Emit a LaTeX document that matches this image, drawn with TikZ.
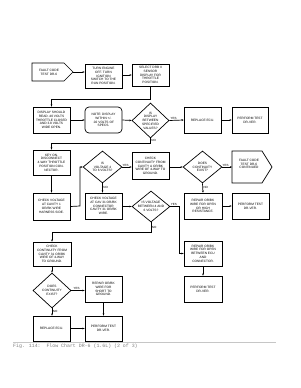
\documentclass[tikz,border=0pt]{standalone}
\usepackage{fontspec}
\setmainfont{Liberation Sans}
\newfontfamily\capfont{Liberation Mono}
\usetikzlibrary{shapes.geometric,arrows.meta}
\tikzset{
  txt/.style={font=\fontsize{3.2}{3.8}\selectfont, align=center, inner sep=0pt},
  box/.style={draw, line width=0.7pt, rectangle, minimum width=37pt, minimum height=26pt, inner sep=0pt, align=center, font=\fontsize{3.2}{3.8}\selectfont},
  dia/.style={draw, line width=0.7pt, diamond, inner sep=0pt},
  conn/.style={line width=0.7pt, -{Stealth[length=2.2pt,width=1.8pt]}},
  lbl/.style={font=\fontsize{3}{3.5}\selectfont, inner sep=0.5pt},
}
\begin{document}
\begin{tikzpicture}[x=1pt,y=-1pt]
\useasboundingbox (0,0) rectangle (300,388);
% pentagon 1
\draw[line width=0.7pt] (32,63) -- (64,63) -- (73,72) -- (64,81) -- (32,81) -- cycle;
\node[txt] (f1) at (49,72) {FAULT CODE\\TEST DR-6};
\coordinate (f1tip) at (73,72);
\node[box, minimum height=24pt] (turn) at (103.5,76) {TURN ENGINE\\OFF. TURN\\IGNITION\\SWITCH TO THE\\RUN POSITION.};
\node[box, minimum height=22pt] (sel) at (150.5,75) {SELECT DRB II\\SENSOR\\DISPLAY FOR\\THROTTLE\\POSITION.};
\node[box] (disp) at (51.5,120) {DISPLAY SHOULD\\READ .40 VOLTS\\THROTTLE CLOSED\\AND 3.8 VOLTS\\WIDE OPEN.};
\node[box, rounded corners=4pt] (note) at (103.5,120) {NOTE: DISPLAY\\WITHIN +/-\\.02 VOLTS OF\\SPECS.};
\node[dia, minimum width=37pt, minimum height=35pt] (d1) at (150.5,120.5) {};
\node[txt] at (d1) {IS\\DISPLAY\\BETWEEN\\SPECIFIED\\VALUES?};
\node[box] (rep1) at (202.5,120) {REPLACE ECU.};
\node[box, minimum width=36pt] (perf1) at (250,120) {PERFORM TEST\\DR-VER.};
\node[box, minimum height=25pt] (key) at (51.5,162.5) {KEY ON.\\DISCONNECT\\4-WAY THROTTLE\\POSITION CON-\\NECTOR.};
\node[dia, minimum width=39pt, minimum height=32pt] (d2) at (102.5,167) {};
\node[txt] at (d2) {IS\\VOLTAGE 4\\TO 6 VOLTS?};
\node[box, minimum height=27pt] (cont1) at (150.5,166) {CHECK\\CONTINUITY FROM\\CAVITY A OR/BK\\WIRE OF 4-WAY TO\\GROUND.};
\node[dia, minimum width=39pt, minimum height=32pt] (d3) at (202.5,167) {};
\node[txt] at (d3) {DOES\\CONTINUITY\\EXIST?};
% pentagon 2
\draw[line width=0.7pt] (232,151) -- (262,151) -- (272,167) -- (262,183) -- (232,183) -- cycle;
\node[txt] (f2) at (249,164) {FAULT CODE\\TEST DR-6\\CONTINUED};
\coordinate (f2w) at (232,167);
\node[box, minimum height=27pt] (cv1) at (51.5,206.5) {CHECK VOLTAGE\\AT CAVITY 1\\OR/BK WIRE\\HARNESS SIDE.};
\node[box] (cv2) at (103.5,206) {CHECK VOLTAGE\\AT CAV 31 OR/BK\\CONNECTOR\\CAVITY 31 OR/BK\\WIRE.};
\node[dia, minimum width=38pt, minimum height=31pt] (d4) at (151,206.5) {};
\node[txt] at (d4) {IS VOLTAGE\\BETWEEN 4 AND\\6 VOLTS?};
\node[box, minimum width=38pt] (repa) at (203,206) {REPAIR OR/BK\\WIRE FOR OPEN\\OR HIGH\\RESISTANCE.};
\node[box] (perf2) at (250.5,206) {PERFORM TEST\\DR-VER.};
\node[box, minimum width=38pt, minimum height=25pt] (repb) at (203,253.5) {REPAIR OR/BK\\WIRE FOR OPEN\\BETWEEN ECU\\AND\\CONNECTOR.};
\node[box, minimum width=38pt] (perf3) at (203,289) {PERFORM TEST\\DR-VER.};
\node[box, minimum width=38pt, minimum height=24pt] (cont2) at (52,254) {CHECK\\CONTINUITY FROM\\CAVITY 31 OR/BK\\WIRE OF 4-WAY\\TO GROUND.};
\node[dia, minimum width=38pt, minimum height=35pt] (d5) at (52,290.5) {};
\node[txt] at (d5) {DOES\\CONTINUITY\\EXIST?};
\node[box] (repc) at (103.5,289) {REPAIR OR/BK\\WIRE FOR\\SHORT TO\\GROUND.};
\node[box, minimum height=25pt] (rep2) at (51.5,328.5) {REPLACE ECU.};
\node[box, minimum height=25pt] (perf4) at (103.5,328.5) {PERFORM TEST\\DR-VER.};
% connectors
\draw[conn] (f1tip) -- (f1tip -| turn.west);
\draw[conn] (turn.east |- sel) -- (sel.west);
\draw[conn] (sel.south) -- ++(0,13) -| (disp.north);
\draw[conn] (disp.east) -- (note.west);
\draw[conn] (note.east) -- (d1.west);
\draw[conn] (d1.east) -- node[lbl, above, pos=0.3] {YES} (rep1.west);
\draw[conn] (rep1.east) -- (perf1.west);
\draw[conn] (d1.south) -- node[lbl, right, pos=0.4] {NO} ++(0,5) -| (key.north);
\draw[conn] (key.south) -- (cv1.north);
\draw[conn] (cv1.east) -- (80,206) |- (d2.west);
\draw[conn] (d2.east) -- node[lbl, above, pos=0.35] {YES} (d2.east -| cont1.west);
\draw[conn] (cont1.east |- d3) -- (d3.west);
\draw[conn] (d3.east) -- node[lbl, above, pos=0.35] {YES} (f2w);
\draw[conn] (d3.south) -- node[lbl, right, pos=0.4] {NO} (repa.north);
\draw[conn] (repa.east) -- (perf2.west);
\draw[conn] (d2.south) -- node[lbl, right, pos=0.4] {NO} (d2.south |- cv2.north);
\draw[conn] (cv2.east |- d4) -- (d4.west);
\draw[conn] (d4.east) -- node[lbl, above, pos=0.4] {YES} (179,206.5) |- (repb.west);
\draw[conn] (d4.south) -- node[lbl, right, pos=0.5] {NO} ++(0,9.5) -| (cont2.north);
\draw[conn] (repb.south) -- (perf3.north);
\draw[conn] (cont2.south) -- (d5.north);
\draw[conn] (d5.east) -- node[lbl, above, pos=0.4] {YES} (d5.east -| repc.west);
\draw[conn] (d5.south) -- node[lbl, right, pos=0.4] {NO} (d5.south |- rep2.north);
\draw[conn] (rep2.east) -- (perf4.west);
\draw[conn] (repc.south) -- (perf4.north);
% caption
\draw[gray!45, line width=0.9pt] (13,342.5) -- (276,342.5);
\node[anchor=west, font=\capfont\fontsize{4.9}{5.5}\selectfont, text=gray, inner sep=0pt] (cap) at (13,346.5) {Fig. 114:\ \ Flow Chart DR-6 (1.6L) (2 of 3)};
\end{tikzpicture}
\end{document}
